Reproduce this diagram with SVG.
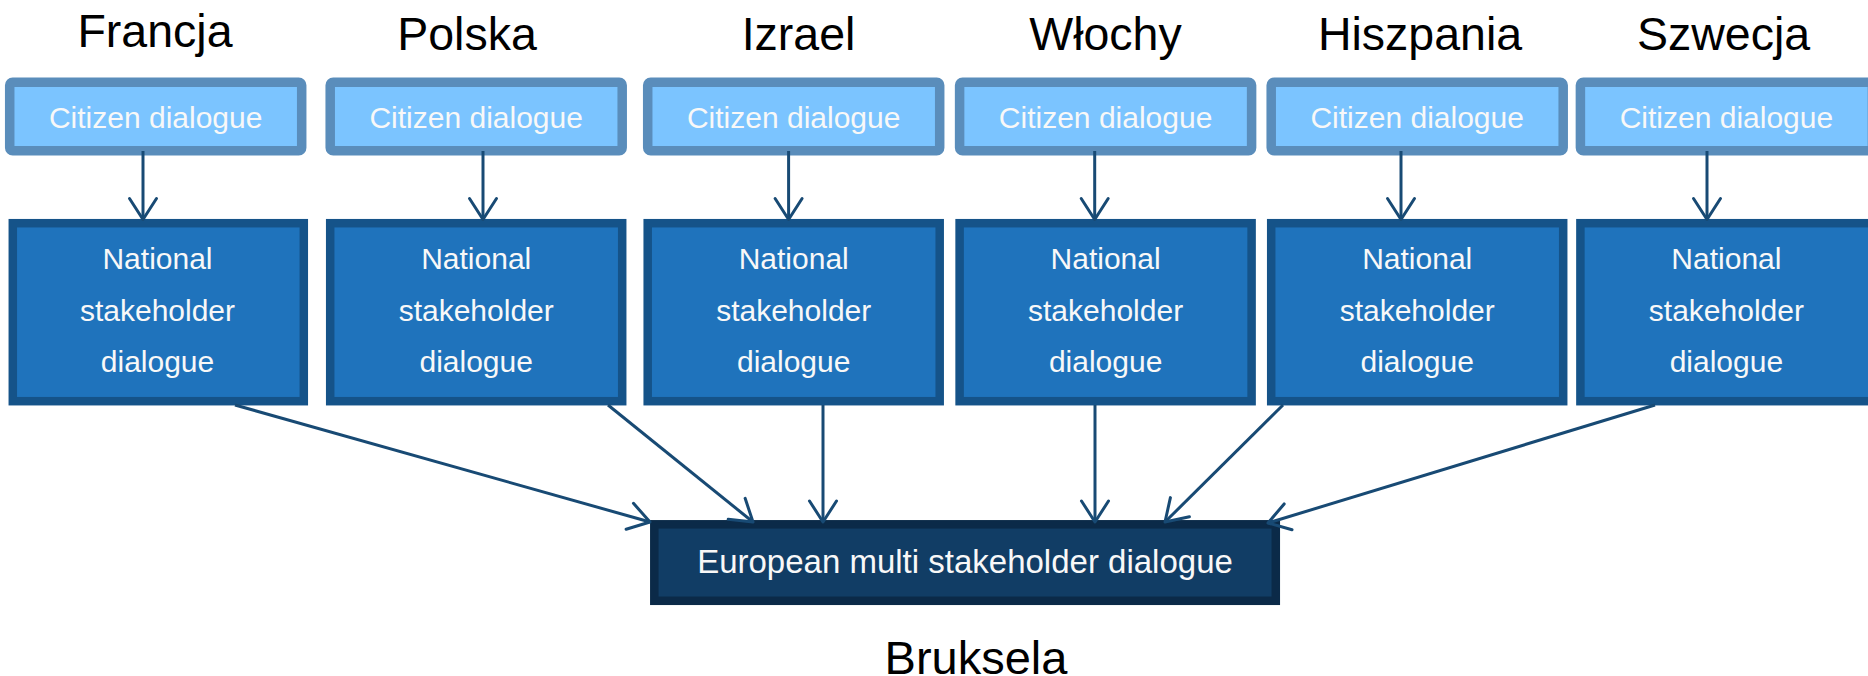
<svg xmlns="http://www.w3.org/2000/svg" width="1868" height="676" viewBox="0 0 1868 676">
<style>
.bg{fill:#ffffff}
.country{font-family:"Liberation Sans",Arial,sans-serif;font-size:46.5px;fill:#000000;text-anchor:middle}
.citizen rect{fill:#7BC4FF;stroke:#5A8DBB;stroke-width:9.5}
.national rect{fill:#1F73BC;stroke:#155389;stroke-width:8.5}
.european rect{fill:#113D65;stroke:#0B2A48;stroke-width:8.5}
.btxt{font-family:"Liberation Sans",Arial,sans-serif;font-size:30px;fill:#F8F8F8;text-anchor:middle}
.etxt{font-family:"Liberation Sans",Arial,sans-serif;font-size:33px;fill:#F8F8F8;text-anchor:middle}
.city{font-family:"Liberation Sans",Arial,sans-serif;font-size:47px;fill:#000000;text-anchor:middle}
.conn line{stroke:#184A74;stroke-width:3;fill:none}
</style>
<defs>
<marker id="arr" markerUnits="userSpaceOnUse" viewBox="-25 -16 28 32" markerWidth="28" markerHeight="32" refX="0" refY="0" orient="auto" overflow="visible">
<path d="M-21,-13.5 L0,0 L-21,13.5" fill="none" stroke="#184A74" stroke-width="3" stroke-linecap="round" stroke-linejoin="round"/>
</marker>
</defs>
<rect class="bg" x="0" y="0" width="1868" height="676"/>

<g id="label-francja"><text class="country" x="155" y="47">Francja</text></g>
<g id="label-polska"><text class="country" x="467" y="50">Polska</text></g>
<g id="label-izrael"><text class="country" x="798.5" y="50">Izrael</text></g>
<g id="label-wlochy"><text class="country" x="1105.5" y="50">Włochy</text></g>
<g id="label-hiszpania"><text class="country" x="1420" y="50">Hiszpania</text></g>
<g id="label-szwecja"><text class="country" x="1723.5" y="50">Szwecja</text></g>

<g id="citizen-francja" class="citizen"><rect x="9.7" y="82.3" width="292" height="68.5" rx="3"/><text class="btxt" x="155.7" y="128.3">Citizen dialogue</text></g>
<g id="citizen-polska" class="citizen"><rect x="330.2" y="82.3" width="292" height="68.5" rx="3"/><text class="btxt" x="476.2" y="128.3">Citizen dialogue</text></g>
<g id="citizen-izrael" class="citizen"><rect x="647.7" y="82.3" width="292" height="68.5" rx="3"/><text class="btxt" x="793.7" y="128.3">Citizen dialogue</text></g>
<g id="citizen-wlochy" class="citizen"><rect x="959.6" y="82.3" width="292" height="68.5" rx="3"/><text class="btxt" x="1105.6" y="128.3">Citizen dialogue</text></g>
<g id="citizen-hiszpania" class="citizen"><rect x="1271.2" y="82.3" width="292" height="68.5" rx="3"/><text class="btxt" x="1417.2" y="128.3">Citizen dialogue</text></g>
<g id="citizen-szwecja" class="citizen"><rect x="1580.4" y="82.3" width="292" height="68.5" rx="3"/><text class="btxt" x="1726.4" y="128.3">Citizen dialogue</text></g>

<g id="national-francja" class="national"><rect x="12.8" y="223.2" width="291" height="178"/><text class="btxt" x="157.5" y="268.5">National</text><text class="btxt" x="157.5" y="320.5">stakeholder</text><text class="btxt" x="157.5" y="372">dialogue</text></g>
<g id="national-polska" class="national"><rect x="330.2" y="223.2" width="292" height="178"/><text class="btxt" x="476.2" y="268.5">National</text><text class="btxt" x="476.2" y="320.5">stakeholder</text><text class="btxt" x="476.2" y="372">dialogue</text></g>
<g id="national-izrael" class="national"><rect x="647.7" y="223.2" width="292" height="178"/><text class="btxt" x="793.7" y="268.5">National</text><text class="btxt" x="793.7" y="320.5">stakeholder</text><text class="btxt" x="793.7" y="372">dialogue</text></g>
<g id="national-wlochy" class="national"><rect x="959.6" y="223.2" width="292" height="178"/><text class="btxt" x="1105.6" y="268.5">National</text><text class="btxt" x="1105.6" y="320.5">stakeholder</text><text class="btxt" x="1105.6" y="372">dialogue</text></g>
<g id="national-hiszpania" class="national"><rect x="1271.2" y="223.2" width="292" height="178"/><text class="btxt" x="1417.2" y="268.5">National</text><text class="btxt" x="1417.2" y="320.5">stakeholder</text><text class="btxt" x="1417.2" y="372">dialogue</text></g>
<g id="national-szwecja" class="national"><rect x="1580.4" y="223.2" width="292" height="178"/><text class="btxt" x="1726.4" y="268.5">National</text><text class="btxt" x="1726.4" y="320.5">stakeholder</text><text class="btxt" x="1726.4" y="372">dialogue</text></g>

<g id="european" class="european"><rect x="654.3" y="524.3" width="621.5" height="76.5"/><text class="etxt" x="965" y="572.7">European multi stakeholder dialogue</text></g>
<g id="label-bruksela"><text class="city" x="976" y="673.5">Bruksela</text></g>

<g id="connectors" class="conn">
<line x1="143" y1="151" x2="143" y2="219.5" marker-end="url(#arr)"/>
<line x1="483" y1="151" x2="483" y2="219.5" marker-end="url(#arr)"/>
<line x1="788.6" y1="151" x2="788.6" y2="219.5" marker-end="url(#arr)"/>
<line x1="1094.7" y1="151" x2="1094.7" y2="219.5" marker-end="url(#arr)"/>
<line x1="1401" y1="151" x2="1401" y2="219.5" marker-end="url(#arr)"/>
<line x1="1707" y1="151" x2="1707" y2="219.5" marker-end="url(#arr)"/>
<line x1="235" y1="405" x2="650" y2="522" marker-end="url(#arr)"/>
<line x1="608" y1="405" x2="753" y2="522" marker-end="url(#arr)"/>
<line x1="823" y1="405" x2="823" y2="522" marker-end="url(#arr)"/>
<line x1="1095" y1="405" x2="1095" y2="522" marker-end="url(#arr)"/>
<line x1="1283" y1="405" x2="1165" y2="522" marker-end="url(#arr)"/>
<line x1="1655" y1="405" x2="1268" y2="523" marker-end="url(#arr)"/>
</g>
</svg>
